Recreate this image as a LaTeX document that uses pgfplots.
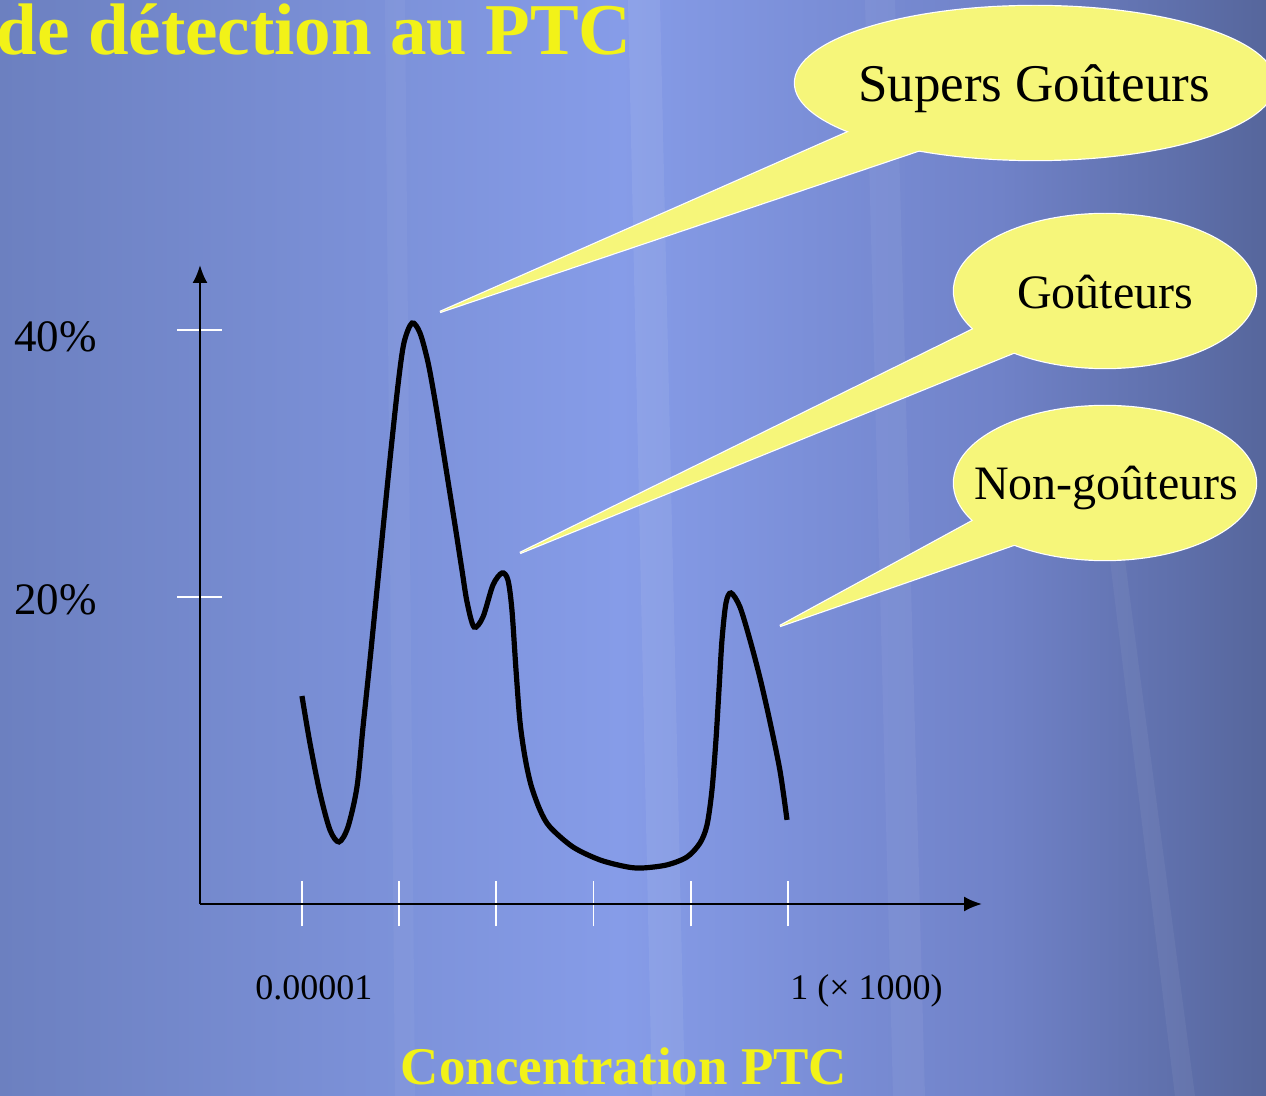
\documentclass[border=0pt]{standalone}
\usepackage{pgfplots}
\pgfplotsset{compat=1.18}
\usepackage{fontspec}
\setmainfont{Liberation Serif}
\usetikzlibrary{arrows.meta}
\definecolor{bgl}{RGB}{108,128,192}
\definecolor{bgm}{RGB}{134,156,232}
\definecolor{bgc}{RGB}{112,130,200}
\definecolor{bgr}{RGB}{86,102,156}
\definecolor{bub}{RGB}{246,246,122}
\definecolor{ttl}{RGB}{242,242,24}
\begin{document}
\begin{tikzpicture}
\useasboundingbox (0,0) rectangle (633pt,-548pt);
\clip (0,0) rectangle (633pt,-548pt);
\begin{scope}[x=0.5pt,y=-0.5pt]
  \shade[left color=bgl, right color=bgm] (0,0) rectangle (620,1096);
  \shade[left color=bgm, right color=bgc] (619.5,0) rectangle (1000,1096);
  \shade[left color=bgc, right color=bgr] (999.5,0) rectangle (1266,1096);
  \fill[white, opacity=0.07] (628,0) -- (660,0) -- (685,1096) -- (652,1096) -- cycle;
  \fill[white, opacity=0.05] (865,0) -- (895,0) -- (925,1096) -- (893,1096) -- cycle;
  \fill[white, opacity=0.05] (1110,560) -- (1125,560) -- (1195,1096) -- (1175,1096) -- cycle;
  \fill[white, opacity=0.04] (385,0) -- (405,0) -- (415,1096) -- (395,1096) -- cycle;
\end{scope}
\begin{axis}[
  at={(100pt,-452pt)}, anchor=south west,
  scale only axis, width=391pt, height=319.5pt,
  xmin=-1.049, xmax=6.996, ymin=-3, ymax=44.87,
  axis lines=left,
  axis line style={black, line width=1.1pt, -{Latex[length=9pt,width=7.5pt]}},
  xtick={0,1,2,3,4,5}, ytick={20,40},
  xticklabels={,,,,,}, yticklabels={,},
  tick align=center,
  major tick length=22.5pt,
  tick style={white, line width=0.9pt},
  clip=false,
]
\addplot[black, line width=2.6pt, smooth, tension=0.5] coordinates {
(0,12.58) (0.082,9.06) (0.185,5.32) (0.288,2.55) (0.381,1.65) (0.473,2.77)
(0.566,5.77) (0.628,10.26) (0.700,15.28) (0.802,22.77) (0.905,30.26)
(0.988,35.88) (1.049,39.03) (1.132,40.52) (1.214,39.78) (1.296,37.60)
(1.368,34.76) (1.440,31.54) (1.512,28.24) (1.584,24.94) (1.646,22.02)
(1.698,19.63) (1.770,17.75) (1.862,18.50) (1.965,20.90) (2.058,21.80)
(2.119,21.27) (2.160,19.03) (2.202,14.53) (2.243,10.64) (2.294,8.01)
(2.356,5.92) (2.449,4.04) (2.551,2.77) (2.788,1.27) (3.066,0.30)
(3.344,-0.22) (3.508,-0.30) (3.755,-0.07) (3.961,0.52) (4.095,1.57)
(4.167,2.92) (4.218,5.54) (4.259,9.29) (4.290,13.03) (4.321,16.78)
(4.362,19.55) (4.414,20.30) (4.506,19.25) (4.609,16.78) (4.712,13.93)
(4.815,10.64) (4.918,6.97) (4.990,3.30)
};
\end{axis}
\begin{scope}[x=0.5pt,y=-0.5pt]
  \node[anchor=base east, inner sep=0, text=ttl, font=\fontsize{36.5pt}{40pt}\selectfont\bfseries] at (632,55) {de détection au PTC};
  \node[anchor=base, inner sep=0, text=ttl, font=\fontsize{26.5pt}{30pt}\selectfont\bfseries] at (624,1085) {Concentration PTC};
  \node[anchor=base west, inner sep=0, font=\fontsize{18pt}{20pt}\selectfont] at (255,1000) {0.00001};
  \node[anchor=base west, inner sep=0, font=\fontsize{18pt}{20pt}\selectfont] at (790,1000) {1 (× 1000)};
  \node[anchor=base west, inner sep=0, font=\fontsize{22.5pt}{25pt}\selectfont] at (14,352) {40\%};
  \node[anchor=base west, inner sep=0, font=\fontsize{22.5pt}{25pt}\selectfont] at (14,615) {20\%};
  \draw[white, line width=1.2pt] (440,312) -- (880,118) -- (950,140) -- cycle;
  \draw[white, line width=1.2pt] (1035,83) ellipse [x radius=240, y radius=77];
  \draw[white, line width=1.2pt] (520,553) -- (1000,316) -- (1040,342) -- cycle;
  \draw[white, line width=1.2pt] (1105,291) ellipse [x radius=151, y radius=77];
  \draw[white, line width=1.2pt] (780,626) -- (1000,506) -- (1045,534) -- cycle;
  \draw[white, line width=1.2pt] (1105,483) ellipse [x radius=151, y radius=77];
  \fill[bub] (440,312) -- (880,118) -- (950,140) -- cycle;
  \fill[bub] (1035,83) ellipse [x radius=240, y radius=77];
  \fill[bub] (520,553) -- (1000,316) -- (1040,342) -- cycle;
  \fill[bub] (1105,291) ellipse [x radius=151, y radius=77];
  \fill[bub] (780,626) -- (1000,506) -- (1045,534) -- cycle;
  \fill[bub] (1105,483) ellipse [x radius=151, y radius=77];
  \node[anchor=base, inner sep=0, font=\fontsize{26.5pt}{30pt}\selectfont] at (1034,102) {Supers Goûteurs};
  \node[anchor=base, inner sep=0, font=\fontsize{24pt}{28pt}\selectfont] at (1105,309) {Goûteurs};
  \node[anchor=base, inner sep=0, font=\fontsize{24pt}{28pt}\selectfont] at (1106,500) {Non-goûteurs};
\end{scope}
\end{tikzpicture}
\end{document}
